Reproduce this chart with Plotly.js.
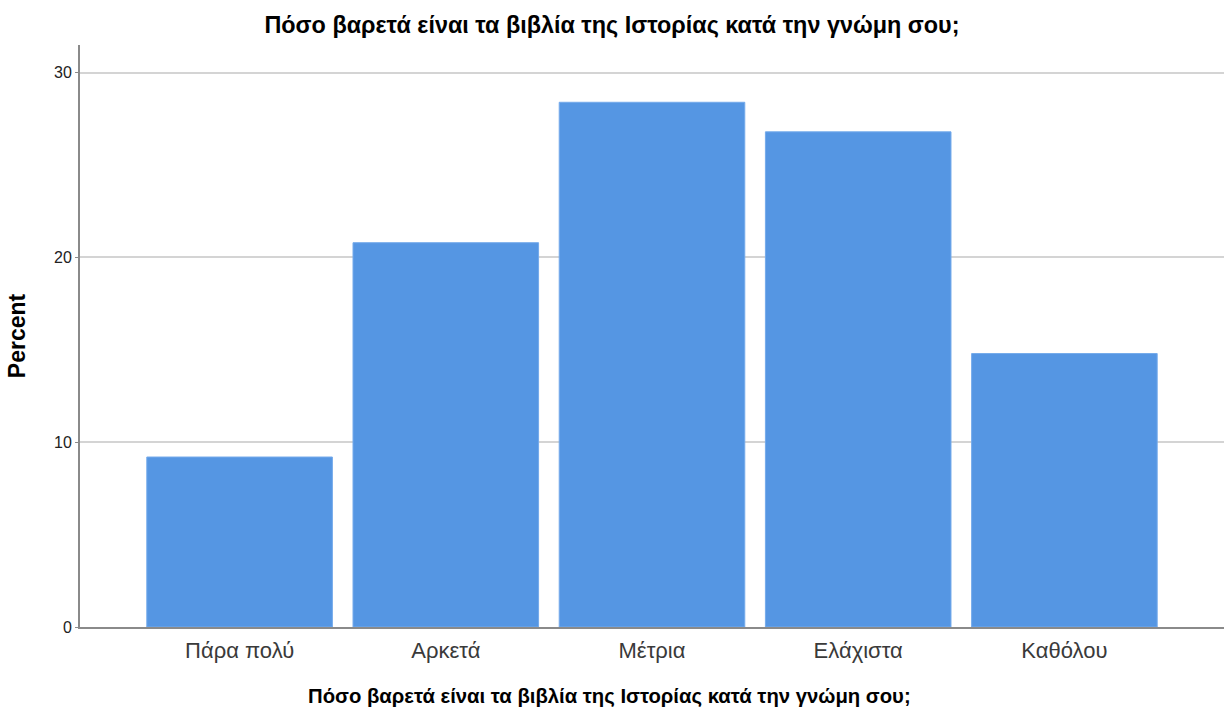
<!DOCTYPE html>
<html>
<head>
<meta charset="utf-8">
<script src="https://cdn.plot.ly/plotly-3.0.1.min.js"></script>
<style>html,body{margin:0;padding:0;background:#fff;}#chart{width:1230px;height:711px;}</style>
</head>
<body>
<div id="chart"></div>
<script>
const categories = ["Πάρα πολύ", "Αρκετά", "Μέτρια", "Ελάχιστα", "Καθόλου"];
const percents = [9.2, 20.8, 28.4, 26.8, 14.8];
const yTicks = [0, 10, 20, 30];
const titleText = "Πόσο βαρετά είναι τα βιβλία της Ιστορίας κατά την γνώμη σου;";

const FONT = "Liberation Sans, Arial, sans-serif";

const trace = {
  type: "bar",
  x: categories,
  y: percents,
  width: 0.9,
  marker: { color: "#5596e3", line: { color: "#74aaeb", width: 1 } },
  hoverinfo: "x+y"
};

const layout = {
  width: 1230, height: 711,
  margin: { l: 80, r: 6, t: 45, b: 84 },
  paper_bgcolor: "#fff", plot_bgcolor: "#fff",
  showlegend: false,
  font: { family: FONT, color: "#000" },
  title: {
    text: "<b>" + titleText + "</b>",
    font: { family: FONT, size: 23.4, color: "#000" },
    x: 0.465, xanchor: "center", xref: "paper",
    y: 0.965, yanchor: "middle", yref: "container"
  },
  xaxis: {
    type: "category",
    range: [-0.774, 4.774],
    showgrid: false,
    zeroline: false,
    showline: true, linecolor: "#8a8a8a", linewidth: 2,
    ticks: "",
    tickfont: { family: FONT, size: 22, color: "#3a3a3a" },
    ticklabelstandoff: 3,
    fixedrange: true
  },
  yaxis: {
    range: [0, 31.5],
    tickvals: yTicks,
    ticktext: yTicks.map(String),
    showgrid: true, gridcolor: "#d4d4d4", gridwidth: 2,
    zeroline: false,
    showline: true, linecolor: "#8a8a8a", linewidth: 2,
    ticks: "outside", ticklen: 3, tickcolor: "#8a8a8a", tickwidth: 1,
    tickfont: { family: FONT, size: 16, color: "#222" },
    title: { text: "<b>Percent</b>", font: { family: FONT, size: 23, color: "#000" }, standoff: 22 },
    fixedrange: true
  },
  annotations: [{
    text: "<b>" + titleText + "</b>",
    xref: "paper", yref: "paper",
    x: 0.463, y: -0.12,
    xanchor: "center", yanchor: "middle",
    showarrow: false,
    font: { family: FONT, size: 20.3, color: "#000" }
  }],
  bargap: 0.1
};

Plotly.newPlot("chart", [trace], layout, { displayModeBar: false, staticPlot: true });
</script>
</body>
</html>
